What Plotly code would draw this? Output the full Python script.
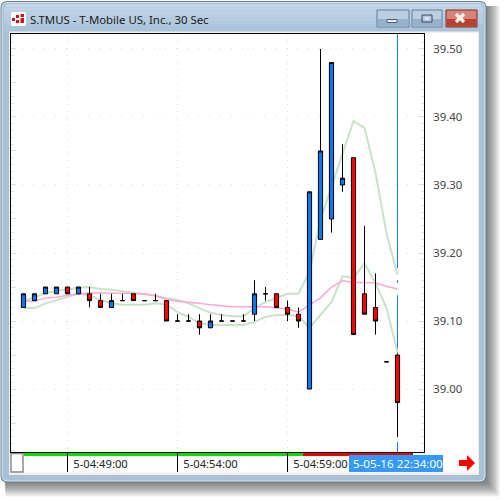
import plotly.graph_objects as go

# ---------- data ----------
opens = [39.12,39.13,39.14,39.14,39.15,39.14,39.14,39.13,39.12,39.13,39.14,39.13,39.13,39.13,39.10,39.10,39.10,39.09,39.10,39.10,39.10,39.11,39.14,39.14,39.12,39.11,39.00,39.22,39.25,39.30,39.34,39.14,39.12,39.04,39.05]
highs = [39.14,39.14,39.15,39.15,39.15,39.15,39.15,39.14,39.14,39.14,39.14,39.13,39.14,39.13,39.11,39.11,39.11,39.11,39.11,39.10,39.11,39.16,39.15,39.14,39.13,39.12,39.29,39.50,39.48,39.36,39.34,39.24,39.17,39.04,39.05]
lows  = [39.12,39.13,39.14,39.14,39.14,39.14,39.12,39.12,39.12,39.13,39.13,39.13,39.13,39.10,39.10,39.10,39.08,39.09,39.10,39.10,39.10,39.10,39.13,39.12,39.10,39.09,39.00,39.22,39.23,39.29,39.08,39.11,39.08,39.04,38.93]
closes= [39.14,39.14,39.15,39.15,39.14,39.15,39.13,39.12,39.13,39.13,39.13,39.13,39.13,39.10,39.10,39.10,39.09,39.10,39.10,39.10,39.10,39.14,39.14,39.12,39.11,39.10,39.29,39.35,39.48,39.31,39.08,39.11,39.10,39.04,38.98]
upper = [39.129,39.135,39.141,39.144,39.147,39.149,39.150,39.147,39.146,39.144,39.141,39.140,39.137,39.134,39.131,39.126,39.119,39.112,39.109,39.107,39.107,39.119,39.128,39.134,39.140,39.140,39.172,39.249,39.297,39.347,39.394,39.384,39.318,39.229,39.168]
lower = [39.119,39.119,39.126,39.131,39.135,39.140,39.138,39.131,39.126,39.124,39.124,39.124,39.126,39.124,39.113,39.106,39.097,39.094,39.094,39.094,39.094,39.099,39.106,39.109,39.109,39.107,39.090,39.109,39.128,39.166,39.163,39.185,39.156,39.119,39.054]
middle= [39.129,39.129,39.134,39.135,39.138,39.140,39.141,39.141,39.141,39.141,39.141,39.140,39.137,39.132,39.129,39.128,39.126,39.124,39.122,39.121,39.121,39.121,39.121,39.119,39.118,39.113,39.124,39.134,39.150,39.159,39.157,39.156,39.156,39.151,39.147]
positions = list(range(35))
x_ticks = [4, 14, 24]
x_labels = ["5-04:49:00", "5-04:54:00", "5-04:59:00"]
y_ticks = [39.00, 39.10, 39.20, 39.30, 39.40, 39.50]
title = "S.TMUS - T-Mobile US, Inc., 30 Sec"
cursor_label = "5-05-16 22:34:00"
cursor_pos = 34
cursor_segments = [(39.522, 39.178), (39.160, 39.156), (39.138, 38.929), (38.922, 38.9074)]

FONT = "Noto Sans"
L, R, T, B = 11, 424, 34, 452
px = lambda v: (v - L) / (R - L)
py = lambda v: (B - v) / (B - T)
shapes = []

def rect(x0, y0, x1, y1, fill, line=None, lw=1, opacity=1):
    shapes.append(dict(type="rect", xref="paper", yref="paper", x0=px(x0), x1=px(x1), y0=py(y0), y1=py(y1),
                       fillcolor=fill, opacity=opacity, layer="below",
                       line=dict(color=line, width=lw) if line else dict(width=0)))

def rounded(x0, y0, x1, y1, r, fill, opacity=1):
    def P(a, b):
        return f"{px(a):.5f},{py(b):.5f}"
    path = (f"M{P(x0+r,y0)} L{P(x1-r,y0)} Q{P(x1,y0)} {P(x1,y0+r)} L{P(x1,y1-r)} Q{P(x1,y1)} {P(x1-r,y1)} "
            f"L{P(x0+r,y1)} Q{P(x0,y1)} {P(x0,y1-r)} L{P(x0,y0+r)} Q{P(x0,y0)} {P(x0+r,y0)} Z")
    shapes.append(dict(type="path", xref="paper", yref="paper", path=path, fillcolor=fill, opacity=opacity,
                       layer="below", line=dict(width=0)))

def seg(x0, y0, x1, y1, color, w):
    shapes.append(dict(type="line", xref="paper", yref="paper", x0=px(x0), x1=px(x1), y0=py(y0), y1=py(y1),
                       layer="below", line=dict(color=color, width=w)))

# drop shadow
for k in range(1, 9):
    rect(4 + k * 0.2, 6, 486 + k * 1.7, 482 + k * 1.8, "#000000", opacity=0.075)
# window
rounded(0.5, 1, 486.5, 482.5, 7, "#5f7f90")
rounded(1.5, 2, 485.5, 481.5, 6, "#dbe7f0")
rounded(2.5, 3, 484.5, 480.5, 5, "#a9c0d6")
bands = ["#c3d6e7", "#c0d4e6", "#bcd1e4", "#b9cfe3", "#b5cce1", "#b2c9df", "#aec6dd", "#abc4dc"]
for i, c in enumerate(bands):
    rect(4 + (0 if i else 2), 4 + i * 3.4, 483 - (0 if i else 2), 4 + (i + 1) * 3.4, c)
# inner panel
rect(9, 31.5, 479, 475, "#f0f0f0")
rect(10, 33, 478, 474, "#ffffff")
rect(10, 472.5, 478, 474, "#f0f0f0")
# title-bar buttons
def button(x0, x1, top, bot, border):
    rect(x0, 10, x1, 27, top, border, 1)
    rect(x0 + 1, 19, x1 - 1, 26.5, bot)
button(377, 409, "#bccfe1", "#96b1cc", "#5f7f9a")
button(412, 442, "#bccfe1", "#96b1cc", "#5f7f9a")
button(446, 477, "#d8837a", "#b8402f", "#7a2e28")
rect(387, 19.5, 397, 22.5, "#e8eef4", "#4c5e70", 1)
rect(422, 15, 432, 22, "#b8cade", "#33465a", 1)
rect(425, 17.5, 429, 19.5, "#e8eef4")
seg(456, 14, 464, 22, "#f6f0ee", 3.2)
seg(464, 14, 456, 22, "#f6f0ee", 3.2)
# app icon
rounded(11, 12, 26, 26, 2, "#ffffff")
for a, b, c, d in [(12, 18, 15, 21), (16, 15, 19, 18), (16, 20, 19, 23), (20.5, 14, 24, 17), (20.5, 18, 24, 23)]:
    rect(a, b, c, d, "#d0121c")
# bottom strip
rect(24, 453, 303, 456, "#00e000")
rect(303, 453, 413, 456, "#f00000")
rect(11, 453.5, 23, 472, "#ffffff", "#8a8a8a", 1.5)
rect(349, 455, 443, 472, "#3399ff")
# red arrow
shapes.append(dict(type="path", xref="paper", yref="paper", layer="below", fillcolor="#ff0000", line=dict(width=0),
                   path="M{:.5f},{:.5f} L{:.5f},{:.5f} L{:.5f},{:.5f} L{:.5f},{:.5f} L{:.5f},{:.5f} L{:.5f},{:.5f} L{:.5f},{:.5f} Z".format(
                       px(459), py(460), px(467), py(460), px(467), py(455), px(475), py(463),
                       px(467), py(471), px(467), py(466), px(459), py(466))))
# crosshair
for y0, y1 in cursor_segments:
    shapes.append(dict(type="line", xref="x", yref="y", x0=cursor_pos, x1=cursor_pos, y0=y0, y1=y1,
                       layer="below", line=dict(color="#1a78e0", width=1)))

fig = go.Figure()
fig.add_trace(go.Scatter(x=positions, y=upper, mode="lines", line=dict(color="#c8e2c8", width=2), yaxis="y"))
fig.add_trace(go.Scatter(x=positions, y=lower, mode="lines", line=dict(color="#c8e2c8", width=2), yaxis="y"))
fig.add_trace(go.Scatter(x=positions, y=middle, mode="lines", line=dict(color="#ffa6d2", width=1.5), yaxis="y"))
fig.add_trace(go.Candlestick(x=positions, open=opens, high=highs, low=lows, close=closes, yaxis="y2",
                             whiskerwidth=0,
                             increasing=dict(line=dict(color="#000000", width=1), fillcolor="#0a78f0"),
                             decreasing=dict(line=dict(color="#000000", width=1), fillcolor="#ff0000")))

yrange = [38.9074, 39.522]
fig.update_layout(
    width=504, height=500, margin=dict(l=L, r=504 - R, t=T, b=500 - B, pad=0),
    paper_bgcolor="#ffffff", plot_bgcolor="#ffffff", showlegend=False, boxgap=0.46, dragmode=False,
    shapes=shapes,
    font=dict(family=FONT, size=12, color="#333333"),
    xaxis=dict(range=[-1.1364, 36.409], rangeslider=dict(visible=False), tickmode="array",
               tickvals=x_ticks, ticktext=x_labels, ticks="outside", ticklen=19, tickcolor="#000000", tickwidth=1,
               ticklabelshift=33, ticklabelstandoff=-17, tickfont=dict(family=FONT, size=11.2, color="#222222"),
               showline=True, linecolor="#000000", linewidth=1, mirror=True, zeroline=False,
               showgrid=True, gridcolor="#dcdcdc", griddash="1px,6px", gridwidth=1),
    yaxis=dict(range=yrange, side="right", tickmode="array", tickvals=y_ticks, tickformat=".2f",
               ticks="inside", ticklen=5, tickcolor="#dddddd", ticklabelstandoff=6,
               tickfont=dict(family=FONT, size=11.4, color="#444444"),
               showline=True, linecolor="#000000", linewidth=1, mirror=True, zeroline=False,
               showgrid=True, gridcolor="#dcdcdc", griddash="1px,10px", gridwidth=1,
               minor=dict(dtick=0.01, ticks="inside", ticklen=3, tickcolor="#e2e2e2")),
    yaxis2=dict(range=yrange, overlaying="y", side="left", showticklabels=False, showgrid=False, zeroline=False,
                dtick=0.05, tick0=39.0, ticks="inside", ticklen=5, tickcolor="#dddddd",
                minor=dict(dtick=0.01, ticks="inside", ticklen=3, tickcolor="#e2e2e2")),
    annotations=[
        dict(text=title, xref="paper", yref="paper", x=px(28), y=py(20), xanchor="left", yanchor="middle",
             showarrow=False, font=dict(family=FONT, size=11.4, color="#1a1a1a")),
        dict(text=cursor_label, xref="x", yref="paper", x=cursor_pos, y=py(464), xanchor="center", yanchor="middle",
             showarrow=False, font=dict(family=FONT, size=11.6, color="#ffffff")),
    ],
)
fig.write_html("out.html", config=dict(displayModeBar=False),
               post_script="document.body.style.margin='0';document.body.style.overflow='hidden';")
